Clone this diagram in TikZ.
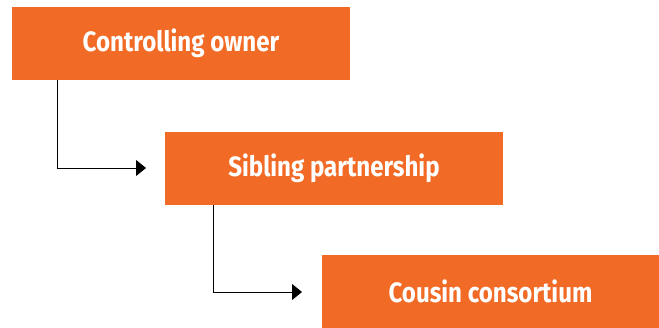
\documentclass[tikz,border=0pt]{standalone}
\usepackage{fontspec}
\setmainfont{Fira Sans}[FakeStretch=0.86]
\usetikzlibrary{arrows.meta}
\definecolor{boxorange}{RGB}{242,107,38}
\begin{document}
\begin{tikzpicture}[x=1pt,y=-1pt,
  stagebox/.style={fill=boxorange, draw=none, minimum width=338pt, minimum height=73pt,
    inner sep=0pt, text=white, font=\fontsize{28}{32}\selectfont\bfseries},
  link/.style={draw=black, line width=0.9pt, -{Triangle[length=10pt,width=16pt]}}]
\useasboundingbox (0,0) rectangle (659,327);
\node[stagebox] (owner) at (181,43.5) {Controlling owner};
\node[stagebox] (sibling) at (334,168.5) {Sibling partnership};
\node[stagebox] (cousin) at (490.5,291) {Cousin consortium};
\coordinate (t1) at (146,168);
\coordinate (t2) at (302,292);
\draw[link] (owner.south -| 57,0) |- (t1);
\draw[link] (sibling.south -| 213,0) |- (t2);
\end{tikzpicture}
\end{document}
